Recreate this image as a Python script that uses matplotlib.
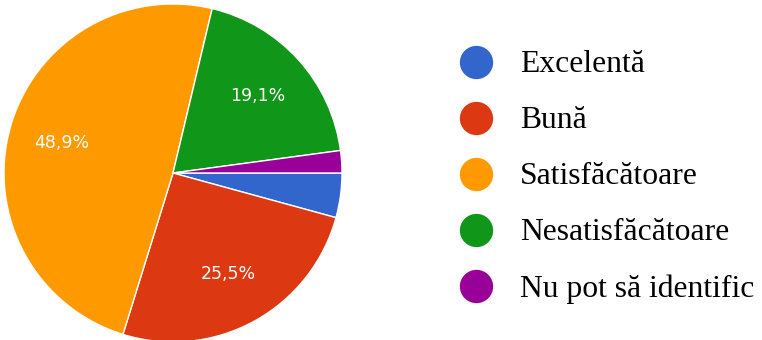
import matplotlib.pyplot as plt
from matplotlib.lines import Line2D

labels = ["Excelentă", "Bună", "Satisfăcătoare", "Nesatisfăcătoare", "Nu pot să identific"]
counts = [2, 12, 23, 9, 1]
colors = ["#3366cc", "#dc3912", "#ff9900", "#109618", "#990099"]

W, H, DPI = 762, 340, 100
fig = plt.figure(figsize=(W / DPI, H / DPI), dpi=DPI)

# pie axes: centre at (173, 173) px from top-left, radius 169 px
cx, cy, r = 173, 173, 169
ax = fig.add_axes([(cx - r) / W, (H - cy - r) / H, 2 * r / W, 2 * r / H])


def fmt_pct(p):
    if p < 5:
        return ""
    return f"{p:.1f}%".replace(".", ",")


wedges, texts, autotexts = ax.pie(
    counts, colors=colors, startangle=0, counterclock=False,
    autopct=fmt_pct, pctdistance=0.68,
    wedgeprops=dict(edgecolor="white", linewidth=1),
    textprops=dict(color="white", fontsize=12.5, family="DejaVu Sans"),
)
ax.set_xlim(-1, 1)
ax.set_ylim(-1, 1)
ax.set_aspect("equal")

# legend drawn on an overlay in pixel coordinates
lax = fig.add_axes([0, 0, 1, 1])
lax.set_xlim(0, W)
lax.set_ylim(H, 0)
lax.axis("off")
row_y = [62, 118, 174, 230, 286]
for y, lab, col in zip(row_y, labels, colors):
    lax.add_line(Line2D([476], [y], marker="o", markersize=24, color=col,
                        markeredgewidth=0, linestyle="none"))
    lax.text(520, y + 10.5, lab, fontsize=22.8, family="Liberation Serif",
             va="baseline", ha="left", color="black")

fig.savefig("out.png", dpi=DPI, facecolor="white")
